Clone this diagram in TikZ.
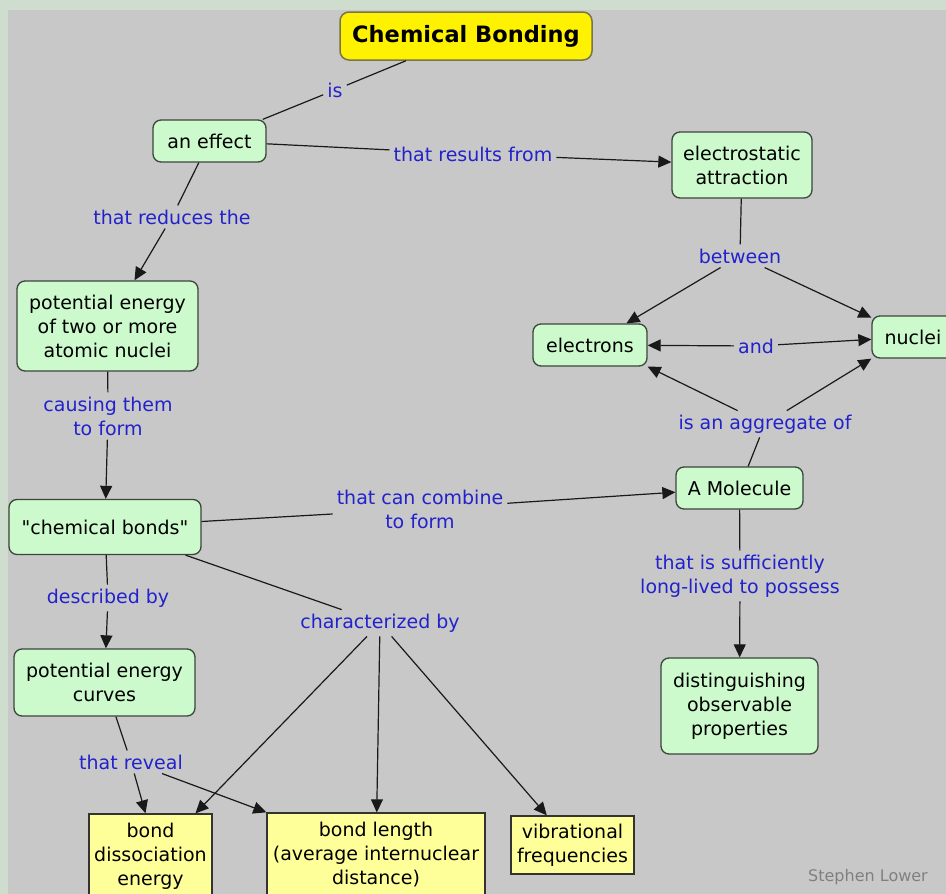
\documentclass[tikz,border=0pt]{standalone}
\usepackage{fontspec}
\setmainfont{DejaVu Sans}
\newfontfamily\quotefont{DejaVu Sans}
\usetikzlibrary{arrows.meta}
\definecolor{bggray}{HTML}{C8C8C8}
\definecolor{framegreen}{HTML}{CFDDCF}
\definecolor{conceptgreen}{HTML}{CCFACC}
\definecolor{linkblue}{HTML}{2222CC}
\definecolor{leafyellow}{HTML}{FFFF99}
\definecolor{edgegray}{HTML}{3C443C}
\begin{document}
\begin{tikzpicture}[x=1pt,y=-1pt,
  every node/.style={font=\fontsize{19}{24}\selectfont},
  concept/.style={draw=edgegray,line width=1.3pt,fill=conceptgreen,rounded corners=8pt,align=center,inner sep=0pt},
  topic/.style={draw=black!60!yellow,line width=1.5pt,fill=yellow,rounded corners=9pt,inner sep=0pt,font=\fontsize{22.5}{26}\selectfont\bfseries},
  leaf/.style={draw=black!80,line width=1.3pt,fill=leafyellow,align=center,inner sep=0pt},
  link/.style={text=linkblue,align=center,inner sep=4pt},
  tie/.style={line width=1.2pt,black!90},
  arr/.style={tie,-{Triangle[length=13pt,width=12pt]}}]
% background and frame
\fill[framegreen] (0,0) rectangle (946,894);
\fill[bggray] (8,10) rectangle (946,894);
\clip (0,0) rectangle (946,894);
\useasboundingbox (0,0) rectangle (946,894);
% concepts
\node[topic,minimum width=252pt,minimum height=48pt] (title) at (466,36) {Chemical Bonding};
\node[concept,minimum width=113pt,minimum height=42pt] (effect) at (209.5,141) {an effect};
\node[concept,minimum width=140pt,minimum height=66pt] (electro) at (742,165) {electrostatic\\attraction};
\node[concept,minimum width=181pt,minimum height=90pt] (potential) at (107.5,326) {potential energy\\of two or more\\atomic nuclei};
\node[concept,minimum width=114pt,minimum height=42pt] (electrons) at (590,345) {electrons};
\node[concept,minimum width=82pt,minimum height=42pt] (nuclei) at (913,337) {nuclei};
\node[concept,minimum width=127pt,minimum height=42pt] (molecule) at (739.5,488) {A Molecule};
\node[concept,minimum width=192pt,minimum height=55pt,font=\fontsize{19}{24}\quotefont] (bonds) at (105,527) {"chemical bonds"};
\node[concept,minimum width=181pt,minimum height=67pt] (curves) at (104.5,682.5) {potential energy\\curves};
\node[concept,minimum width=157pt,minimum height=96pt] (props) at (739.5,706) {distinguishing\\observable\\properties};
\node[leaf,minimum width=123pt,minimum height=84pt] (bde) at (150.5,856) {bond\\dissociation\\energy};
\node[leaf,minimum width=218pt,minimum height=84pt] (blen) at (376,855) {bond length\\(average internuclear\\distance)};
\node[leaf,minimum width=123pt,minimum height=58pt] (vib) at (572.5,845) {vibrational\\frequencies};
% linking phrases
\node[link] (is) at (335,90) {is};
\node[link] (results) at (473,154) {that results from};
\node[link] (reduces) at (172,217) {that reduces the};
\node[link] (between) at (740,256) {between};
\node[link] (and) at (756,346) {and};
\node[link] (causing) at (108,416) {causing them\\to form};
\node[link] (aggregate) at (765,424) {is an aggregate of};
\node[link] (combine) at (420,509) {that can combine\\to form};
\node[link] (described) at (108,598) {described by};
\node[link] (characterized) at (380,623) {characterized by};
\node[link] (sufficient) at (740,576) {that is sufficiently\\long-lived to possess};
\node[link] (reveal) at (131,762) {that reveal};
% connectors
\draw[tie] (title) -- (is);
\draw[tie] (is) -- (effect);
\draw[tie] (effect) -- (results);
\draw[arr] (results) -- (electro);
\draw[tie] (effect) -- (reduces);
\draw[arr] (reduces) -- (potential);
\draw[tie] (electro) -- (between);
\draw[arr] (between) -- (electrons);
\draw[arr] (between) -- (nuclei);
\draw[arr] (and) -- (electrons);
\draw[arr] (and) -- (nuclei);
\draw[tie] (potential) -- (causing);
\draw[arr] (causing) -- (bonds);
\draw[tie] (molecule) -- (aggregate);
\draw[arr] (aggregate) -- (electrons.south east);
\draw[arr] (aggregate) -- (nuclei.south west);
\draw[tie] (bonds) -- (combine);
\draw[arr] (combine) -- (molecule);
\draw[tie] (molecule) -- (sufficient);
\draw[arr] (sufficient) -- (props);
\draw[tie] (bonds) -- (described);
\draw[arr] (described) -- (curves);
\draw[tie] (bonds) -- (characterized);
\draw[arr] (characterized) -- ([xshift=45pt]bde.north);
\draw[arr] (characterized) -- (blen);
\draw[arr] (characterized) -- (vib);
\draw[tie] (curves) -- (reveal);
\draw[arr] (reveal) -- ([xshift=-5pt]bde.north);
\draw[arr] (reveal) -- (blen.north west);
% credit
\node[text=black!50,font=\fontsize{16}{19}\selectfont] (credit) at (868,877) {Stephen Lower};
\end{tikzpicture}
\end{document}
